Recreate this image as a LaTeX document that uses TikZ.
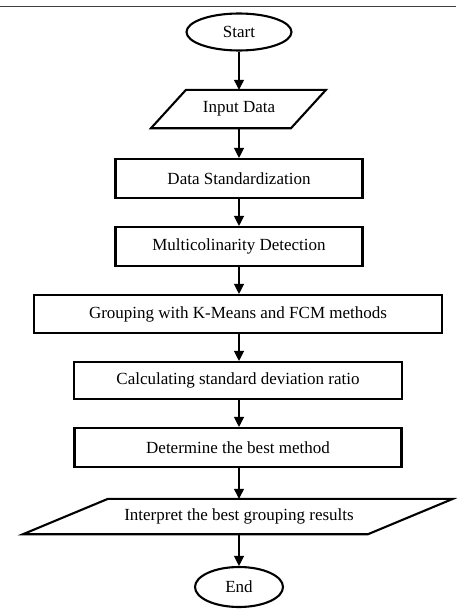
\documentclass[tikz,border=0pt]{standalone}
\usepackage{fontspec}
\setmainfont{Liberation Serif}
\usetikzlibrary{arrows.meta,shapes.geometric}

\tikzset{
  stepbox/.style={draw=black, line width=2.1pt, rectangle, inner sep=0pt,
                  font=\fontsize{17}{20}\selectfont},
  term/.style={draw=black, line width=2.1pt, ellipse, inner sep=0pt,
               font=\fontsize{17}{20}\selectfont},
  iotext/.style={inner sep=0pt, font=\fontsize{17}{20}\selectfont},
  iofrm/.style={draw=black, line width=2.1pt, line join=miter},
  arr/.style={draw=black, line width=1.2pt,
              -{Triangle[length=10pt,width=10pt]}},
  rule/.style={draw=black!75, line width=0.9pt}
}

\begin{document}
\begin{tikzpicture}[x=1pt, y=-1pt]
  \useasboundingbox (0,0) rectangle (456,610);

  % rule across the top
  \coordinate (ruleL) at (0,6);
  \coordinate (ruleR) at (456,6);
  \draw[rule] (ruleL) -- (ruleR);

  % terminals and process steps
  \node[term, minimum width=105pt, minimum height=37pt] (start) at (239,32) {Start};

  \node[iotext, minimum width=100pt, minimum height=38pt] (input) at (239,109) {Input Data};
  \draw[iofrm] ([xshift=-53pt]input.north) -- ([xshift=87pt]input.north)
               -- ([xshift=52pt]input.south) -- ([xshift=-88pt]input.south) -- cycle;

  \node[stepbox, minimum width=247pt, minimum height=39pt] (std) at (239,178.5) {Data Standardization};
  \node[stepbox, minimum width=247pt, minimum height=39pt] (multi) at (239,246.5) {Multicolinarity Detection};
  \node[stepbox, minimum width=408pt, minimum height=38pt] (group) at (238,314) {Grouping with K-Means and FCM methods};
  \node[stepbox, minimum width=328pt, minimum height=37pt] (calc) at (238,380.5) {Calculating standard deviation ratio};
  \node[stepbox, minimum width=327pt, minimum height=39pt] (best) at (238,447.5) {Determine the best method};

  \node[iotext, minimum width=200pt, minimum height=35pt] (interp) at (239,516.5) {Interpret the best grouping results};
  \draw[iofrm] ([xshift=-131pt]interp.north) -- ([xshift=214pt]interp.north)
               -- ([xshift=129pt]interp.south) -- ([xshift=-216pt]interp.south) -- cycle;

  \node[term, minimum width=88pt, minimum height=40pt] (end) at (239,587) {End};

  % flow
  \draw[arr] (start) -- (input);
  \draw[arr] (input) -- (std);
  \draw[arr] (std) -- (multi);
  \draw[arr] (multi.south -| 239,0) -- (group.north -| 239,0);
  \draw[arr] (group.south -| 239,0) -- (calc.north -| 239,0);
  \draw[arr] (calc.south -| 239,0) -- (best.north -| 239,0);
  \draw[arr] (best.south -| 239,0) -- (interp);
  \draw[arr] (interp) -- (end);
\end{tikzpicture}
\end{document}
